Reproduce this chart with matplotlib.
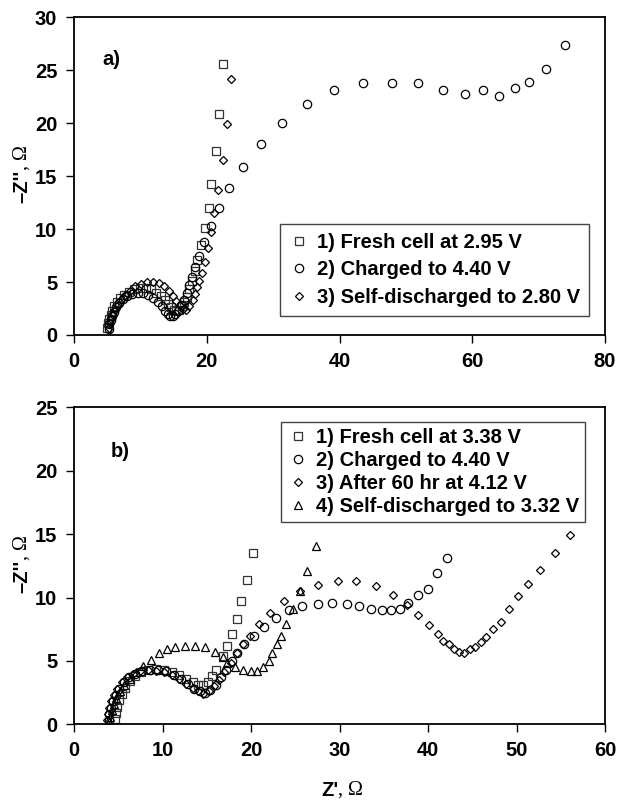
import numpy as np
import matplotlib
matplotlib.use("Agg")
import matplotlib.pyplot as plt

# panel a) -- Z' and -Z'' in ohm
a_fresh_x = [5.0, 5.1, 5.3, 5.5, 5.8, 6.1, 6.5, 7.0, 7.6, 8.3, 9.1, 9.9, 10.8, 11.6, 12.4, 13.1,
             13.7, 14.2, 14.6, 15.0, 15.4, 15.8, 16.2, 16.6, 17.0, 17.4, 17.8, 18.2, 18.6, 19.2,
             19.7, 20.3, 20.7, 21.4, 21.9, 22.5]
a_fresh_y = [0.7, 1.1, 1.5, 1.9, 2.3, 2.7, 3.1, 3.5, 3.8, 4.1, 4.3, 4.4, 4.4, 4.3, 4.0, 3.7,
             3.3, 2.9, 2.6, 2.4, 2.3, 2.4, 2.7, 3.1, 3.6, 4.3, 5.1, 6.0, 7.1, 8.5,
             10.1, 12.0, 14.3, 17.4, 20.9, 25.6]

a_charged_x = [5.2, 5.3, 5.5, 5.7, 6.0, 6.4, 6.8, 7.4, 8.0, 8.8, 9.6, 10.4, 11.2, 11.9, 12.6, 13.2,
               13.7, 14.1, 14.5, 14.9, 15.2, 15.6, 16.1, 16.6, 17.0, 17.4, 17.8, 18.3, 18.8, 19.6,
               20.6, 21.9, 23.4, 25.5, 28.2, 31.4, 35.1, 39.2, 43.6, 47.9, 51.8, 55.6, 58.9,
               61.6, 64.0, 66.4, 68.5, 71.1, 73.9]
a_charged_y = [0.6, 1.0, 1.4, 1.8, 2.2, 2.6, 3.0, 3.4, 3.7, 3.9, 4.0, 4.0, 3.8, 3.5, 3.1, 2.7,
               2.3, 2.0, 1.8, 1.8, 2.0, 2.3, 2.8, 3.3, 4.0, 4.7, 5.5, 6.4, 7.5, 8.8,
               10.3, 12.0, 13.9, 15.9, 18.0, 20.0, 21.8, 23.1, 23.8, 23.8, 23.8, 23.1, 22.8,
               23.1, 22.6, 23.3, 23.9, 25.1, 27.4]

a_selfdis_x = [5.3, 5.4, 5.6, 5.9, 6.2, 6.6, 7.1, 7.7, 8.4, 9.2, 10.1, 11.0, 11.9, 12.8, 13.6, 14.3,
               14.9, 15.4, 15.9, 16.4, 16.9, 17.4, 17.9, 18.3, 18.6, 18.9, 19.3, 19.7, 20.2, 20.6,
               21.1, 21.7, 22.4, 23.0, 23.6]
a_selfdis_y = [0.7, 1.1, 1.5, 1.9, 2.4, 2.8, 3.3, 3.8, 4.2, 4.6, 4.8, 5.0, 5.0, 4.9, 4.6, 4.2,
               3.7, 3.2, 2.8, 2.5, 2.4, 2.7, 3.3, 3.9, 4.5, 5.1, 5.9, 6.9, 8.2, 9.7,
               11.5, 13.7, 16.5, 19.9, 24.2]

# panel b)
b_fresh_x = [4.6, 4.7, 4.9, 5.1, 5.4, 5.8, 6.3, 6.9, 7.6, 8.4, 9.3, 10.2, 11.1, 11.9, 12.7, 13.4,
             14.0, 14.6, 15.1, 15.6, 16.1, 16.8, 17.3, 17.9, 18.4, 18.9, 19.5, 20.2]
b_fresh_y = [0.4, 0.9, 1.4, 1.9, 2.4, 2.9, 3.4, 3.8, 4.1, 4.3, 4.4, 4.3, 4.1, 3.9, 3.6, 3.3,
             3.1, 3.1, 3.3, 3.8, 4.3, 5.4, 6.2, 7.1, 8.3, 9.7, 11.4, 13.5]

b_charged_x = [3.9, 4.0, 4.2, 4.4, 4.7, 5.1, 5.6, 6.2, 6.9, 7.7, 8.6, 9.5, 10.4, 11.3, 12.1, 12.9,
               13.6, 14.2, 14.8, 15.4, 16.0, 16.6, 17.2, 17.8, 18.4, 19.2, 20.3, 21.5, 22.8, 24.3,
               25.8, 27.6, 29.2, 30.8, 32.2, 33.6, 34.8, 35.8, 36.8, 37.7, 38.9, 40.0, 41.0, 42.1]
b_charged_y = [0.3, 0.8, 1.3, 1.8, 2.3, 2.8, 3.3, 3.7, 4.0, 4.2, 4.3, 4.3, 4.2, 3.9, 3.6, 3.2,
               2.8, 2.6, 2.5, 2.7, 3.1, 3.7, 4.3, 5.0, 5.6, 6.3, 7.0, 7.7, 8.4, 9.0,
               9.3, 9.5, 9.6, 9.5, 9.3, 9.1, 9.0, 9.0, 9.1, 9.6, 10.2, 10.7, 11.9, 13.1]

b_hold_x = [3.7, 3.8, 4.0, 4.2, 4.5, 4.9, 5.4, 6.0, 6.7, 7.5, 8.4, 9.3, 10.2, 11.1, 11.9, 12.7,
            13.4, 14.0, 14.6, 15.2, 15.8, 16.4, 17.0, 17.7, 18.4, 19.1, 19.9, 20.9, 22.1, 23.7,
            25.5, 27.6, 29.8, 31.9, 34.1, 36.1, 37.6, 38.9, 40.1, 41.1, 41.7, 42.4, 42.9, 43.5,
            44.1, 44.7, 45.3, 46.0, 46.6, 47.4, 48.3, 49.2, 50.2, 51.3, 52.7, 54.3, 56.1]
b_hold_y = [0.3, 0.8, 1.3, 1.8, 2.3, 2.8, 3.3, 3.7, 4.0, 4.2, 4.3, 4.2, 4.1, 3.9, 3.6, 3.2,
            2.9, 2.6, 2.4, 2.6, 3.0, 3.5, 4.1, 4.8, 5.6, 6.3, 7.0, 7.9, 8.8, 9.7,
            10.5, 11.0, 11.3, 11.3, 10.9, 10.2, 9.4, 8.6, 7.8, 7.1, 6.6, 6.3, 5.9, 5.7,
            5.6, 5.9, 6.1, 6.5, 6.9, 7.5, 8.1, 9.1, 10.1, 11.1, 12.2, 13.5, 14.9]

b_selfdis_x = [4.0, 4.1, 4.3, 4.5, 4.8, 5.2, 5.7, 6.3, 7.0, 7.8, 8.7, 9.6, 10.5, 11.4, 12.5, 13.7,
               14.8, 15.9, 16.8, 17.3, 18.2, 19.1, 20.0, 20.7, 21.4, 22.0, 22.4, 22.9, 23.4, 24.0,
               24.7, 25.5, 26.3, 27.3]
b_selfdis_y = [0.2, 0.6, 1.1, 1.6, 2.1, 2.6, 3.1, 3.6, 4.1, 4.6, 5.1, 5.6, 5.9, 6.1, 6.2, 6.2,
               6.1, 5.7, 5.3, 4.8, 4.5, 4.3, 4.2, 4.2, 4.5, 5.0, 5.6, 6.3, 7.0, 7.9,
               9.1, 10.5, 12.1, 14.1]

labels_a = ["1) Fresh cell at 2.95 V", "2) Charged to 4.40 V", "3) Self-discharged to 2.80 V"]
labels_b = ["1) Fresh cell at 3.38 V", "2) Charged to 4.40 V", "3) After 60 hr at 4.12 V",
            "4) Self-discharged to 3.32 V"]

SANS = "Liberation Sans"
SERIF = "Liberation Serif"
FS = 14.5

marker_styles = [
    dict(marker="s", ms=6.0, mec="#333333"),
    dict(marker="o", ms=6.0, mec="black"),
    dict(marker="D", ms=4.0, mec="black"),
    dict(marker="^", ms=5.5, mec="black"),
]


def style_axes(ax, xmax, xstep, ymax, ystep):
    ax.set_xlim(0, xmax)
    ax.set_ylim(0, ymax)
    ax.set_xticks(np.arange(0, xmax + 0.1, xstep))
    ax.set_yticks(np.arange(0, ymax + 0.1, ystep))
    for sp in ax.spines.values():
        sp.set_linewidth(1.3)
        sp.set_color("black")
    ax.tick_params(direction="out", length=6, width=1.0, pad=6)
    for lab in ax.get_xticklabels() + ax.get_yticklabels():
        lab.set_fontfamily(SANS)
        lab.set_fontweight("bold")
        lab.set_fontsize(FS)


def add_series(ax, xs, ys, style, label):
    ax.plot(xs, ys, linestyle="none", mfc="none", mew=0.9, label=label, **style)


def ylabel(fig, ycenter_px):
    x = 22 / 619
    y = 1 - ycenter_px / 802
    fig.text(x, y, "\u2013Z''", rotation=90, ha="center", va="top",
             fontfamily=SANS, fontweight="bold", fontsize=FS)
    fig.text(x, y, ", \u03a9", rotation=90, ha="center", va="bottom",
             fontfamily=SERIF, fontsize=FS)


fig = plt.figure(figsize=(6.19, 8.02), dpi=100)
ax_a = fig.add_axes([74 / 619, 1 - 335 / 802, 531 / 619, 317.7 / 802])
ax_b = fig.add_axes([74 / 619, 1 - 724.3 / 802, 531 / 619, 317 / 802])

# panel a
add_series(ax_a, a_fresh_x, a_fresh_y, marker_styles[0], labels_a[0])
add_series(ax_a, a_charged_x, a_charged_y, marker_styles[1], labels_a[1])
add_series(ax_a, a_selfdis_x, a_selfdis_y, marker_styles[2], labels_a[2])
style_axes(ax_a, 80, 20, 30, 5)
ax_a.text(4.2, 26.0, "a)", fontfamily=SANS, fontweight="bold", fontsize=FS, va="center")
leg = ax_a.legend(loc="lower right", bbox_to_anchor=(0.97, 0.06),
                  prop=dict(family=SANS, weight="bold", size=FS),
                  frameon=True, fancybox=False, edgecolor="#444444", framealpha=1,
                  handlelength=1.0, handletextpad=0.4, labelspacing=0.42,
                  borderpad=0.45, borderaxespad=0)
leg.get_frame().set_linewidth(1.0)

# panel b
add_series(ax_b, b_fresh_x, b_fresh_y, marker_styles[0], labels_b[0])
add_series(ax_b, b_charged_x, b_charged_y, marker_styles[1], labels_b[1])
add_series(ax_b, b_hold_x, b_hold_y, marker_styles[2], labels_b[2])
add_series(ax_b, b_selfdis_x, b_selfdis_y, marker_styles[3], labels_b[3])
style_axes(ax_b, 60, 10, 25, 5)
ax_b.text(4.2, 21.5, "b)", fontfamily=SANS, fontweight="bold", fontsize=FS, va="center")
leg = ax_b.legend(loc="upper right", bbox_to_anchor=(0.962, 0.955),
                  prop=dict(family=SANS, weight="bold", size=FS),
                  frameon=True, fancybox=False, edgecolor="#444444", framealpha=1,
                  handlelength=1.0, handletextpad=0.4, labelspacing=0.2,
                  borderpad=0.3, borderaxespad=0)
leg.get_frame().set_linewidth(1.0)

ylabel(fig, 170)
ylabel(fig, 560)

# x label for panel b: bold Z' plus serif ohm
xc = 338 / 619
yb = 1 - 790 / 802
fig.text(xc, yb, "Z'", ha="right", va="center", fontfamily=SANS, fontweight="bold", fontsize=FS)
fig.text(xc, yb, ", \u03a9", ha="left", va="center", fontfamily=SERIF, fontsize=FS)

fig.savefig("out.png", dpi=100)
